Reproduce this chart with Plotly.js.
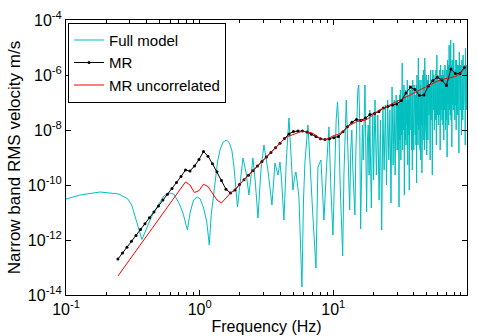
<!DOCTYPE html>
<html>
<head>
<meta charset="utf-8">
<script src="https://cdn.plot.ly/plotly-3.0.1.min.js"></script>
<style>html,body{margin:0;padding:0;background:#fff;}#chart{width:478px;height:336px;}</style>
</head>
<body>
<div id="chart"></div>
<script>
// Full model (cyan)
const freqFull = [0.1,0.127,0.18,0.249,0.29,0.31,0.34,0.37,0.42,0.45,0.5,0.54,0.59,0.64,0.7,0.75,0.81,0.85,0.9,0.96,1.01,1.07,1.13,1.18,1.22,1.3,1.36,1.42,1.5,1.59,1.67,1.74,1.8,1.87,
1.918,2.108,2.22,2.337,2.504,2.6,2.73,2.874,3.026,3.24,3.474,3.658,3.852,3.988,4.1,4.271,4.45,4.655,4.82,4.987,5.12,5.252,5.53,5.823,5.98,6.132,6.457,6.683,7.039,7.411,7.671,8.078,8.506,8.956,9.271,9.594,9.931,
10.25,10.5,10.75,11,11.25,11.5,11.75,12,12.25,12.5,12.75,13,13.25,13.5,13.75,14,14.25,14.5,14.75,15,15.25,15.5,15.75,16,16.25,16.5,16.75,17,17.25,17.5,17.75,18,18.25,18.5,18.75,19,19.25,19.5,19.75,20,
20.5,21,21.5,22,22.5,23,23.5,24,24.5,25,25.5,26,26.5,27,27.5,28,28.5,29,29.5,30,
30.25,30.5,30.75,31,31.25,31.5,31.75,32,32.25,32.5,32.75,33,33.25,33.5,33.75,34,34.25,34.5,34.75,35,
35.25,35.5,35.75,36,36.25,36.5,36.75,37,37.25,37.5,37.75,38,38.25,38.5,38.75,39,39.25,39.5,39.75,40,
40.25,40.5,40.75,41,41.25,41.5,41.75,42,42.25,42.5,42.75,43,43.25,43.5,43.75,44,44.25,44.5,44.75,45,
45.25,45.5,45.75,46,46.25,46.5,46.75,47,47.25,47.5,47.75,48,48.25,48.5,48.75,49,49.25,49.5,49.75,50,
50.5,51,51.5,52,52.5,53,53.5,54,54.5,55,55.5,56,56.5,57,57.5,58,58.5,59,59.5,60,
60.5,61,61.5,62,62.5,63,63.5,64,64.5,65,65.5,66,66.5,67,67.5,68,68.5,69,69.5,70,
70.5,71,71.5,72,72.5,73,73.5,74,74.5,75,75.5,76,76.5,77,77.5,78,78.5,79,79.5,80,
80.5,81,81.5,82,82.5,83,83.5,84,84.5,85,85.5,86,86.5,87,87.5,88,88.5,89,89.5,90,
90.5,91,91.5,92,92.5,93,93.5,94,94.5,95,95.5,96,96.5,97,97.5,98,98.5,99,99.5,100];
const velFull = [3.1e-11,4.33e-11,5.56e-11,4.71e-11,3.1e-11,1.87e-11,4.15e-12,1.04e-12,4.52e-12,9.6e-12,2.21e-11,3.98e-11,5.12e-11,4.71e-11,2.21e-11,9.6e-12,2.31e-12,1.04e-11,2.85e-11,3.66e-11,3.1e-11,1.46e-11,4.52e-12,6.58e-13,8.11e-12,1.52e-10,6.86e-10,1.87e-9,3.66e-9,4.33e-9,3.37e-9,1.87e-9,5.33e-10,6.58e-11,
1.58e-11,9.6e-10,2.97e-10,4.33e-11,9.6e-10,1.52e-10,6.31e-12,3.51e-10,2.85e-9,3.51e-10,1.87e-11,6.31e-10,2.31e-10,6.86e-10,1.52e-10,5.33e-12,8.11e-10,2.73e-8,1.87e-9,6.58e-11,1.8e-10,2.97e-10,3.66e-11,1.95e-14,2.85e-11,6.86e-10,1.52e-8,5.33e-10,6.86e-12,9.6e-14,4.52e-10,8.11e-10,5.33e-12,8.11e-10,1.29e-8,6.58e-11,1.52e-12,
3.51e-10,2.31e-8,1.04e-7,1.0e-8,1.0e-10,2.31e-12,2.62e-13,2.31e-10,2.31e-8,1.23e-7,6.58e-9,1.0e-10,1.23e-11,1.87e-9,1.0e-8,3.51e-10,2.85e-11,8.11e-12,1.87e-9,8.11e-8,2.85e-7,4.33e-7,2.31e-8,2.51e-12,8.11e-10,1.52e-8,8.11e-10,1.23e-7,4.33e-7,1.87e-9,1.04e-11,4.33e-9,1.52e-8,2.31e-10,5.33e-8,5.33e-10,1.46e-11,1.87e-9,3.51e-8,1.52e-10,
1.23e-7,2.31e-10,3.51e-8,2.85e-11,2.31e-8,2.31e-12,5.33e-8,3.51e-10,8.11e-8,1.0e-10,1.23e-7,8.11e-10,5.33e-8,2.21e-11,3.66e-7,5.33e-10,1.23e-7,2.31e-10,1.87e-7,1.87e-9,
1.23e-7,1.87e-9,8.11e-8,1.58e-11,1.87e-7,4.33e-9,2.85e-7,8.11e-10,1.23e-7,6.58e-9,2.73e-6,1.87e-9,1.87e-7,1.0e-8,4.33e-7,4.33e-11,1.87e-7,4.33e-9,2.85e-7,2.85e-9,
1.23e-7,1.52e-8,6.58e-7,5.33e-10,1.87e-7,6.58e-9,1.23e-7,6.58e-11,4.33e-7,1.0e-8,2.85e-7,4.33e-9,1.87e-7,1.87e-9,4.33e-7,3.51e-10,6.58e-7,1.0e-8,2.85e-7,1.87e-9,
4.33e-7,1.52e-8,2.85e-7,6.58e-9,1.87e-7,2.85e-9,4.33e-7,1.18e-10,1.0e-6,1.52e-8,2.85e-7,2.85e-9,4.15e-6,1.0e-8,6.58e-7,1.0e-8,2.85e-7,1.87e-9,4.33e-7,8.11e-10,
6.58e-7,1.52e-8,1.87e-7,2.73e-10,4.33e-7,6.58e-9,1.0e-6,4.33e-9,1.52e-6,2.31e-8,4.33e-7,1.87e-9,4.15e-6,1.0e-8,6.58e-7,1.52e-8,4.33e-7,4.33e-9,1.0e-6,1.23e-9,
6.58e-7,4.33e-9,1.0e-6,3.51e-8,4.33e-7,8.11e-10,1.52e-6,2.31e-8,6.58e-7,2.31e-10,1.52e-6,5.33e-8,1.0e-6,1.0e-8,6.58e-7,2.31e-8,1.52e-6,2.85e-9,5.33e-6,3.51e-8,
1.0e-6,1.52e-8,6.58e-7,3.51e-8,1.52e-6,1.87e-9,2.31e-6,5.33e-8,1.0e-6,2.31e-8,1.52e-6,1.52e-8,1.0e-6,4.33e-9,1.52e-6,5.33e-8,2.31e-6,1.0e-8,6.58e-7,2.31e-8,
1.52e-6,1.04e-9,3.51e-6,8.11e-8,2.31e-6,1.52e-8,1.23e-5,5.33e-8,3.51e-6,3.51e-8,1.87e-5,2.31e-8,2.31e-6,2.41e-9,3.51e-6,8.11e-8,1.52e-6,5.33e-8,1.46e-5,2.31e-8,
2.31e-6,2.31e-8,1.52e-6,8.11e-8,3.51e-6,1.0e-8,3.51e-6,5.33e-8,2.31e-6,3.51e-8,1.0e-6,2.31e-8,2.31e-6,1.46e-9,6.86e-6,1.23e-7,3.51e-6,5.33e-8,2.31e-6,3.51e-8,
1.52e-6,6.58e-9,3.51e-6,8.11e-8,2.31e-6,2.31e-8,5.33e-6,5.33e-8,3.51e-6,1.23e-7,1.52e-6,3.51e-8,2.31e-6,2.85e-9,9.6e-6,8.11e-8,3.51e-6,5.33e-8,2.31e-6,2.85e-7];

// MR and MR uncorrelated (shared frequency grid)
const freqMR = [0.2447,0.2647,0.2859,0.309,0.3338,0.3607,0.3898,0.4211,0.4551,0.4918,
0.5314,0.5743,0.6206,0.6706,0.7247,0.7831,0.8462,0.9144,0.9881,1.068,
1.154,1.247,1.347,1.456,1.573,1.7,1.837,1.985,2.145,2.317,
2.504,2.706,2.924,3.16,3.414,3.69,3.987,4.308,4.656,5.03,
5.436,5.875,6.348,6.86,7.413,8.011,8.656,9.353,10.11,10.92,
11.8,12.75,13.78,14.89,16.09,17.39,18.79,20.3,21.94,23.71,
25.62,27.68,29.91,32.32,34.93,37.74,40.78,44.07,47.62,51.45,
55.6,60.08,64.92,70.15,75.81,81.92,88.52,95.65];
const velMR = [2.04e-13,3.34e-13,5.47e-13,8.97e-13,1.46e-12,2.39e-12,3.92e-12,6.41e-12,1.05e-11,1.72e-11,
2.82e-11,4.59e-11,7.52e-11,1.23e-10,2.02e-10,3.51e-10,3.23e-10,4.91e-10,8.39e-10,1.65e-9,
1.12e-9,5.93e-10,3.02e-10,1.46e-10,7.03e-11,5.12e-11,6.58e-11,1.05e-10,1.54e-10,2.25e-10,
3.31e-10,4.86e-10,7.16e-10,1.05e-9,1.53e-9,2.25e-9,3.31e-9,4.86e-9,7.16e-9,8.81e-9,
9.2e-9,9.2e-9,8.46e-9,7.0e-9,5.8e-9,4.81e-9,4.48e-9,4.83e-9,5.2e-9,5.8e-9,
8.67e-9,1.3e-8,1.92e-8,2.43e-8,2.21e-8,2.73e-8,3.63e-8,3.95e-8,4.71e-8,6.25e-8,
7.31e-8,8.04e-8,8.89e-8,1.18e-7,2.21e-7,3.59e-7,2.94e-7,1.78e-7,1.87e-7,3.98e-7,
6.36e-7,8.24e-7,6.58e-7,4.15e-7,1.65e-6,1.13e-6,1.14e-6,1.86e-6];
const velMRU = [4.91e-14,8.3e-14,1.4e-13,2.37e-13,3.99e-13,6.75e-13,1.14e-12,1.92e-12,3.26e-12,5.52e-12,
9.27e-12,1.57e-11,2.64e-11,4.48e-11,7.59e-11,1.29e-10,1.0e-10,5.33e-11,6.21e-11,1.07e-10,
8.81e-11,5.01e-11,2.85e-11,2.21e-11,3.28e-11,5.12e-11,6.86e-11,1.05e-10,1.54e-10,2.25e-10,
3.31e-10,4.86e-10,7.16e-10,1.05e-9,1.53e-9,2.25e-9,3.31e-9,4.86e-9,6.05e-9,6.98e-9,
8.11e-9,9.12e-9,8.61e-9,7.98e-9,6.37e-9,4.71e-9,4.33e-9,5.22e-9,6.31e-9,6.98e-9,
8.75e-9,1.33e-8,1.65e-8,2.0e-8,2.18e-8,2.27e-8,2.9e-8,4.06e-8,5.3e-8,6.31e-8,
7.46e-8,9.01e-8,1.09e-7,1.31e-7,1.58e-7,1.92e-7,2.34e-7,2.85e-7,3.48e-7,4.22e-7,
5.04e-7,5.97e-7,6.86e-7,7.46e-7,8.11e-7,8.81e-7,1.11e-6,1.68e-6];

const seriesNames = ['Full model', 'MR', 'MR uncorrelated'];
const xTickVals = [0.1, 1, 10, 100];
const xTickText = ['10<sup>-1</sup>', '10<sup>0</sup>', '10<sup>1</sup>', '10<sup>2</sup>'];
const xMinorVals = [0.2,0.3,0.4,0.5,0.6,0.7,0.8,0.9,2,3,4,5,6,7,8,9,20,30,40,50,60,70,80,90];
const yTickVals = [1e-14, 1e-12, 1e-10, 1e-8, 1e-6, 1e-4];
const yTickText = ['10<sup>-14</sup>', '10<sup>-12</sup>', '10<sup>-10</sup>', '10<sup>-8</sup>', '10<sup>-6</sup>', '10<sup>-4</sup>'];

const FONT = 'Arial, "Liberation Sans", Helvetica, sans-serif';

const traces = [
  {x: freqFull, y: velFull, name: seriesNames[0], type: 'scatter', mode: 'lines',
   line: {color: '#00BFBF', width: 1}},
  {x: freqMR, y: velMR, name: seriesNames[1], type: 'scatter', mode: 'lines+markers',
   line: {color: '#000000', width: 1}, marker: {color: '#000000', size: 3, symbol: 'circle'}},
  {x: freqMR, y: velMRU, name: seriesNames[2], type: 'scatter', mode: 'lines',
   line: {color: '#FF0000', width: 1}}
];

const axisCommon = {
  type: 'log', showgrid: false, zeroline: false, showline: true, linecolor: '#000', linewidth: 1,
  mirror: 'ticks', ticks: 'inside', ticklen: 5, tickcolor: '#000', tickwidth: 1,
  tickfont: {family: FONT, size: 16, color: '#000'}, tickmode: 'array'
};

const layout = {
  width: 478, height: 336,
  margin: {l: 66, r: 11, t: 20, b: 41, pad: 0},
  paper_bgcolor: '#fff', plot_bgcolor: '#fff',
  font: {family: FONT, size: 16, color: '#000'},
  showlegend: true,
  legend: {x: 0.005, y: 0.99, xanchor: 'left', yanchor: 'top', bgcolor: '#fff',
    bordercolor: '#000', borderwidth: 1, font: {family: FONT, size: 15, color: '#000'},
    tracegroupgap: 0, itemwidth: 30},
  xaxis: Object.assign({}, axisCommon, {
    range: [-1, 2], tickvals: xTickVals, ticktext: xTickText,
    minor: {tickmode: 'array', tickvals: xMinorVals, ticks: 'inside', ticklen: 3, tickcolor: '#000', showgrid: false},
    title: {text: 'Frequency (Hz)', font: {family: FONT, size: 16, color: '#000'}, standoff: 2}
  }),
  yaxis: Object.assign({}, axisCommon, {
    range: [-14, -4], tickvals: yTickVals, ticktext: yTickText,
    title: {text: 'Narrow band RMS velocity m/s', font: {family: FONT, size: 17, color: '#000'}, standoff: 2}
  })
};

Plotly.newPlot('chart', traces, layout, {displayModeBar: false, staticPlot: true});
</script>
</body>
</html>
